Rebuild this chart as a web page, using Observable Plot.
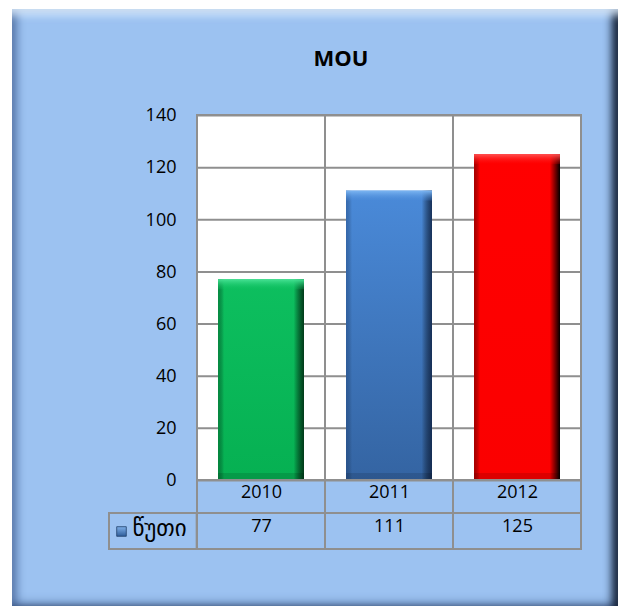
<!DOCTYPE html>
<html>
<head>
<meta charset="utf-8">
<script src="https://cdn.jsdelivr.net/npm/d3@7"></script>
<script src="https://cdn.jsdelivr.net/npm/@observablehq/plot@0.6"></script>
<style>
  body { margin: 0; background: #ffffff; }
  #wrap { position: relative; width: 621px; height: 608px; overflow: hidden; }
  #frame {
    position: absolute; left: 12px; top: 9px; width: 606px; height: 597px;
    background: #9cc2f1;
    box-shadow:
      inset 0 12px 8px -6px rgba(225,240,255,0.85),
      inset 10px 0 9px -5px rgba(50,80,130,0.65),
      inset -9px 0 8px -3px rgba(10,20,40,0.95),
      inset 0 -9px 8px -5px rgba(50,80,130,0.45);
  }
  #chart { position: absolute; left: 0; top: 0; }
</style>
</head>
<body>
<div id="wrap">
  <div id="frame"></div>
  <div id="chart"></div>
</div>
<script>
// ---- data ----
const title = "MOU";
const years = ["2010", "2011", "2012"];
const values = [77, 111, 125];
const seriesLabel = "წუთი";

// ---- styles ----
const gray = "#8f8f8f";
const barStyle = {
  "2010": {top: "#0dbf5f", bottom: "#06b052", left: "rgba(0,100,45,0.55)", right: "rgba(0,45,18,0.9)", bevel: "#48e295"},
  "2011": {top: "#4a8ad9", bottom: "#3464a2", left: "rgba(20,50,100,0.35)", right: "rgba(15,35,70,0.85)", bevel: "#7db6f2"},
  "2012": {top: "#ff0000", bottom: "#fb0000", left: "rgba(110,0,0,0.6)", right: "rgba(0,0,0,1)", bevel: "#ff5252"}
};

const W = 621, H = 608, mL = 196, mR = 40, mT = 115, mB = 128;
const frameH = H - mT - mB;
const bandW = (W - mL - mR) / years.length;
const row1 = 33, row2 = 36;
const font = "'Open Sans','DejaVu Sans',sans-serif";

const data = years.map((year, i) => ({year, value: values[i]}));
const barInset = {insetLeft: 21, insetRight: 21};

const plot = Plot.plot({
  width: W, height: H,
  marginLeft: mL, marginRight: mR, marginTop: mT, marginBottom: mB,
  style: {background: "transparent", fontFamily: font, fontSize: "18px", color: "#000", overflow: "visible"},
  x: {domain: years, padding: 0, axis: null},
  y: {domain: [0, 140], ticks: 7, tickSize: 0, tickPadding: 20, label: null},
  color: {type: "identity"},
  marks: [
    // plot area: white columns with gray borders
    Plot.cell(years, {x: d => d, fill: "white", stroke: gray, strokeWidth: 2}),
    Plot.ruleY(d3.range(0, 141, 20), {stroke: gray, strokeWidth: 2}),
    // bars
    Plot.barY(data, {x: "year", y: "value", fill: d => `url(#base${d.year})`, ...barInset, ariaLabel: "bar-base"}),
    Plot.barY(data, {x: "year", y: "value", fill: d => `url(#edge${d.year})`, ...barInset}),
    Plot.barY(data, {x: "year", y1: "value", y2: "value", insetBottom: -10, fill: d => `url(#bevel${d.year})`, ...barInset}),
    Plot.barY(data, {x: "year", y1: 0, y2: 0, insetTop: -7, fill: "rgba(0,0,0,0.12)", ...barInset}),
    // data table
    Plot.cell(years, {x: d => d, insetTop: frameH, insetBottom: -row1, fill: "none", stroke: gray, strokeWidth: 2}),
    Plot.cell(years, {x: d => d, insetTop: frameH + row1, insetBottom: -(row1 + row2), fill: "none", stroke: gray, strokeWidth: 2}),
    Plot.cell([years[0]], {x: d => d, insetTop: frameH + row1, insetBottom: -(row1 + row2), insetLeft: -88, insetRight: bandW, fill: "none", stroke: gray, strokeWidth: 2}),
    Plot.text(data, {x: "year", text: "year", frameAnchor: "bottom", dy: 17, fontSize: 18, fill: "#000"}),
    Plot.text(data, {x: "year", text: d => String(d.value), frameAnchor: "bottom", dy: row1 + row2 / 2, fontSize: 18, fill: "#000"}),
    Plot.text([seriesLabel], {text: d => d, frameAnchor: "bottom-left", textAnchor: "middle", dx: -37, dy: row1 + row2 / 2 + 4, fontSize: 23, fontFamily: "'DejaVu Sans',sans-serif", fill: "#000"}),
    Plot.dot([seriesLabel], {frameAnchor: "bottom-left", dx: -75, dy: row1 + row2 / 2, symbol: "square", r: 5.4, fill: "url(#icon)", stroke: "#1f3f6a", strokeWidth: 0.8}),
    // title
    Plot.text([title], {text: d => d, frameAnchor: "top", dx: -48, dy: -65, fontSize: 22, fontWeight: "bold", fill: "#000"})
  ]
});

// gradient definitions referenced by the bars
const svg = d3.select(plot);
const defs = svg.insert("defs", ":first-child");
for (const y of years) {
  const s = barStyle[y];
  const base = defs.append("linearGradient").attr("id", `base${y}`).attr("x1", 0).attr("y1", 0).attr("x2", 0).attr("y2", 1);
  base.append("stop").attr("offset", 0).attr("stop-color", s.top);
  base.append("stop").attr("offset", 1).attr("stop-color", s.bottom);
  const edge = defs.append("linearGradient").attr("id", `edge${y}`).attr("x1", 0).attr("y1", 0).attr("x2", 1).attr("y2", 0);
  edge.append("stop").attr("offset", 0).attr("stop-color", s.left);
  edge.append("stop").attr("offset", 0.07).attr("stop-color", "rgba(0,0,0,0)");
  edge.append("stop").attr("offset", 0.88).attr("stop-color", "rgba(0,0,0,0)");
  edge.append("stop").attr("offset", 1).attr("stop-color", s.right);
  const bev = defs.append("linearGradient").attr("id", `bevel${y}`).attr("x1", 0).attr("y1", 0).attr("x2", 0).attr("y2", 1);
  bev.append("stop").attr("offset", 0).attr("stop-color", s.bevel);
  bev.append("stop").attr("offset", 1).attr("stop-color", s.top).attr("stop-opacity", 0.2);
}
const icon = defs.append("linearGradient").attr("id", "icon").attr("x1", 0).attr("y1", 0).attr("x2", 0).attr("y2", 1);
icon.append("stop").attr("offset", 0).attr("stop-color", "#7fb0ea");
icon.append("stop").attr("offset", 1).attr("stop-color", "#2f5d98");

svg.selectAll('g[aria-label="bar-base"]').style("filter", "drop-shadow(4px 2px 4px rgba(0,0,0,0.35))");
svg.selectAll('g[aria-label="y-axis tick label"], g[aria-label="y-axis"]').attr("font-size", 18);

document.getElementById("chart").appendChild(plot);
</script>
</body>
</html>
